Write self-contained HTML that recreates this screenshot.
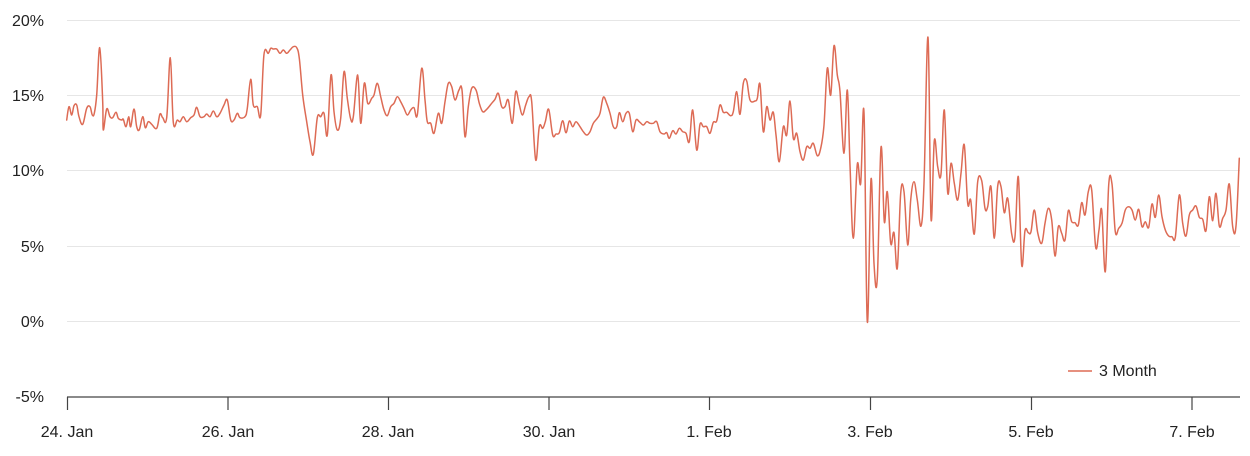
<!DOCTYPE html>
<html><head><meta charset="utf-8"><style>
html,body{margin:0;padding:0;background:#fff;}
svg{display:block;}
text{font-family:"Liberation Sans",sans-serif;font-size:16px;fill:#222;}
</style></head><body>
<svg id="chart" width="1250" height="456" viewBox="0 0 1250 456" xmlns="http://www.w3.org/2000/svg">
<g stroke="#e6e6e6" stroke-width="1">
<line x1="67" y1="20.5" x2="1240" y2="20.5"/>
<line x1="67" y1="95.5" x2="1240" y2="95.5"/>
<line x1="67" y1="170.5" x2="1240" y2="170.5"/>
<line x1="67" y1="246.5" x2="1240" y2="246.5"/>
<line x1="67" y1="321.5" x2="1240" y2="321.5"/>
</g>
<g text-anchor="end">
<text x="44" y="26">20%</text>
<text x="44" y="101">15%</text>
<text x="44" y="176">10%</text>
<text x="44" y="252">5%</text>
<text x="44" y="327">0%</text>
<text x="44" y="402">-5%</text>
</g>
<g stroke="#444" stroke-width="1.2">
<line x1="67" y1="397" x2="1240" y2="397"/>
<line x1="67.5" y1="397" x2="67.5" y2="410"/>
<line x1="228" y1="397" x2="228" y2="410"/>
<line x1="388.5" y1="397" x2="388.5" y2="410"/>
<line x1="549" y1="397" x2="549" y2="410"/>
<line x1="709.5" y1="397" x2="709.5" y2="410"/>
<line x1="870.5" y1="397" x2="870.5" y2="410"/>
<line x1="1031.5" y1="397" x2="1031.5" y2="410"/>
<line x1="1192" y1="397" x2="1192" y2="410"/>
</g>
<g text-anchor="middle">
<text x="67" y="437">24. Jan</text>
<text x="228" y="437">26. Jan</text>
<text x="388" y="437">28. Jan</text>
<text x="549" y="437">30. Jan</text>
<text x="709" y="437">1. Feb</text>
<text x="870" y="437">3. Feb</text>
<text x="1031" y="437">5. Feb</text>
<text x="1192" y="437">7. Feb</text>
</g>
<line x1="1068" y1="371" x2="1092" y2="371" stroke="#dd6b55" stroke-width="1.5"/>
<text x="1099" y="376">3 Month</text>
<polyline id="series" fill="none" stroke="#dd6b55" stroke-width="1.5" stroke-linejoin="round" stroke-linecap="round" points="
66.7,120 69,106.7 71.7,115 74,105.7 76.7,105 79,116.7 82.7,124.3 86.7,108.3 90,106.7 92.3,115 94.3,113.3 96.7,95 99.7,47.7 102.7,101.7 103.3,130 106.7,109 110,116.7 112.7,117.7 116,112.3 118.3,118.3 121.7,120 123.3,119.3 126,126.7 128.7,116.7 130.7,126.7 134,109 136.7,126.7 139.3,129.7 142.7,116.7 145.3,127.7 148.3,121.7 151.7,124.3 156.7,128.3 160,114 162.7,117.7 166.7,117.7 170.3,57.7 173.3,122.3 177.3,120 180,121.7 183.3,116.7 186.7,121.7 190.7,117.7 194,115 196.7,107.3 200,116.7 204,116.7 206.7,114 210,116.7 213.3,111 216.7,116.7 220,113.3 224,105 227.3,100 230.7,120 234,120 237.3,113.3 240,117.7 245,116.7 247.3,108.3 250.7,79.3 253.3,105 257.3,106.7 260.7,115 264,54.3 268.3,53.3 270.7,48.3 273.3,49 276.7,49 280,53.3 283.3,50 286.7,53.3 290,50 293.3,46.7 296.7,47.7 299.3,58.3 302.7,95 306.7,121.7 310,141.7 313.3,154.3 317.3,117.7 320.7,116.7 324,113.3 327.3,135 331,75 334,111.7 337.3,130 340.7,118.3 344,71.7 347.3,98.3 350.7,119 353.3,116.7 357.7,75 360.7,123.3 364.3,83.3 367.7,103.3 371.7,98.3 374,95 377.3,83.3 380.7,96.7 384,110 387.3,115.7 390.7,106.7 394,103.3 397.3,96.7 400.7,101.7 404,108.3 407.3,115 410.7,110 414,107.7 417.3,115 421.7,68.3 425,100 427.3,121.7 430.7,123.3 434,133.3 438.3,113.3 441.7,123.3 445,101.7 448.3,83.3 451.7,86.7 455,100 459,90 462,90 465,136.7 468.3,106.7 471.7,88.3 476,90 479.3,103.3 482.7,111.7 486.7,109.3 491.7,103.3 495,99.3 498.3,93.3 501.7,106.7 505,106.7 508.3,100 512.3,123.3 515.7,91.7 519,103.3 522.3,115 525.7,105 529,96.7 531.7,101.7 535.7,160 539.3,126.7 542.7,128.3 545.3,121.7 548.7,109.3 552.7,135 556,134 559.3,132.7 562.7,120.7 566,132.7 569.3,121 572.7,126.7 576,121.7 580,126.7 583.3,131.7 586.7,135 590,131.7 593.3,123.3 597.3,118.3 600,113.3 603.3,97.3 606.7,103.3 610,113.3 613.3,126.7 616.7,126.7 619.3,112.7 622.7,121.7 626,113.3 629.3,113.3 632.7,131.7 636,120 639.3,121.7 643.3,125 646.7,121.7 650,123.3 653.3,123.3 656.7,121.7 660,131.7 664,134 666.7,132.7 669.3,138.3 672.7,130.7 676,134 679.3,128.3 682.7,131.7 686,133.3 689.3,141.7 692.7,110 696.7,150 700,124.3 703.3,126.7 706.7,126.7 710,133.3 713.3,122.3 716.7,121 720,105 723.3,112.3 726.7,112.3 730.7,115.7 733.3,111.7 736.7,91.7 740,114.3 743.3,83.3 746.7,81 750,100 755,101 757.3,98.3 760,84.3 763.3,131.7 766.7,106.7 770,120 773.3,112.3 776,135 779.3,161.7 783.3,126.7 786.7,135 790,101 793.3,138.3 796.7,133.3 800,151.7 803.3,160 806.7,146.7 810,148.3 813.3,143.3 817.3,155.7 820.7,148.3 824,125 827.3,68.3 830.7,95 834,45.7 837.3,75 840,91.7 844,153.3 847.3,90 850,165 853.3,238.3 857.3,164.3 860.7,183.3 864,112.7 867.3,321.7 871,179.3 874,263.3 877.3,278.3 881,147.3 884.3,221.7 887.3,191.7 890.7,243.3 894,232.7 897.3,268.3 900.7,193.3 904,191.7 907.7,245 910.7,200 914,181.7 917.3,200 921,226 924,183.3 928,37.3 931,218.3 934.3,140.7 937.7,166.7 941,174 944.3,110 947.7,192.7 951,163.3 954.3,183.3 957.7,200 961,173.3 964.3,145 967.7,203.3 970.7,200 974.3,234 977.7,181.7 981.7,180.7 985,208.3 987.7,206.7 991,186.7 994.3,238.3 997.7,186 1001,186.7 1004.3,212.7 1007.7,198.3 1011.7,234 1015,236.7 1018.3,176.7 1021.7,265 1025,230.7 1028.3,232.7 1031,231.7 1034.3,210 1037.7,232.7 1041.7,243.3 1045,223.3 1048.3,208.3 1051.7,220 1055,256 1058.3,226.7 1061.7,233.3 1065,240 1068.3,210.7 1071.7,221.7 1075,222.7 1078.3,225 1081.7,202.7 1085,215 1088.3,191.7 1091.7,190 1095.7,247.3 1099,230 1101.7,210 1105.3,271.7 1108.7,185 1112,184 1115.3,231.7 1118.7,228.3 1122,223.3 1125.3,210 1128.7,206.7 1132,210 1135.3,220 1138.7,209.3 1142,226.7 1145.3,221.7 1148.7,227.3 1152,204 1155.3,217.3 1158.7,195 1162,216.7 1165.3,230 1168.7,236 1172,236.7 1175.3,237.3 1179.3,195 1182.7,223.3 1186,236 1189.3,215 1192.7,210 1196,206 1199.3,217.3 1202.7,219.3 1206,230.7 1209.3,196.7 1212.7,220.7 1216,193.3 1219.3,226 1222.7,218.3 1226,210 1229.3,184 1232.7,226.7 1236,226 1239.3,158.3"/>
</svg>
<script>
(function(){
  var pl=document.getElementById('series');
  var raw=pl.getAttribute('points').trim().split(/\s+/);
  var p=raw.map(function(s){var a=s.split(',');return [parseFloat(a[0]),parseFloat(a[1])];});
  var t=0.18;
  var d='M'+p[0][0]+','+p[0][1];
  for(var i=0;i<p.length-1;i++){
    var p0=p[i>0?i-1:i],p1=p[i],p2=p[i+1],p3=p[i+2<p.length?i+2:i+1];
    var c1x=p1[0]+(p2[0]-p0[0])*t,c1y=p1[1]+(p2[1]-p0[1])*t;
    var c2x=p2[0]-(p3[0]-p1[0])*t,c2y=p2[1]-(p3[1]-p1[1])*t;
    d+=' C'+c1x.toFixed(1)+','+c1y.toFixed(1)+' '+c2x.toFixed(1)+','+c2y.toFixed(1)+' '+p2[0]+','+p2[1];
  }
  var path=document.createElementNS('http://www.w3.org/2000/svg','path');
  path.setAttribute('d',d);
  path.setAttribute('fill','none');
  path.setAttribute('stroke','#dd6b55');
  path.setAttribute('stroke-width','1.5');
  path.setAttribute('stroke-linejoin','round');
  path.setAttribute('stroke-linecap','round');
  pl.parentNode.replaceChild(path,pl);
})();
</script>
</body></html>
